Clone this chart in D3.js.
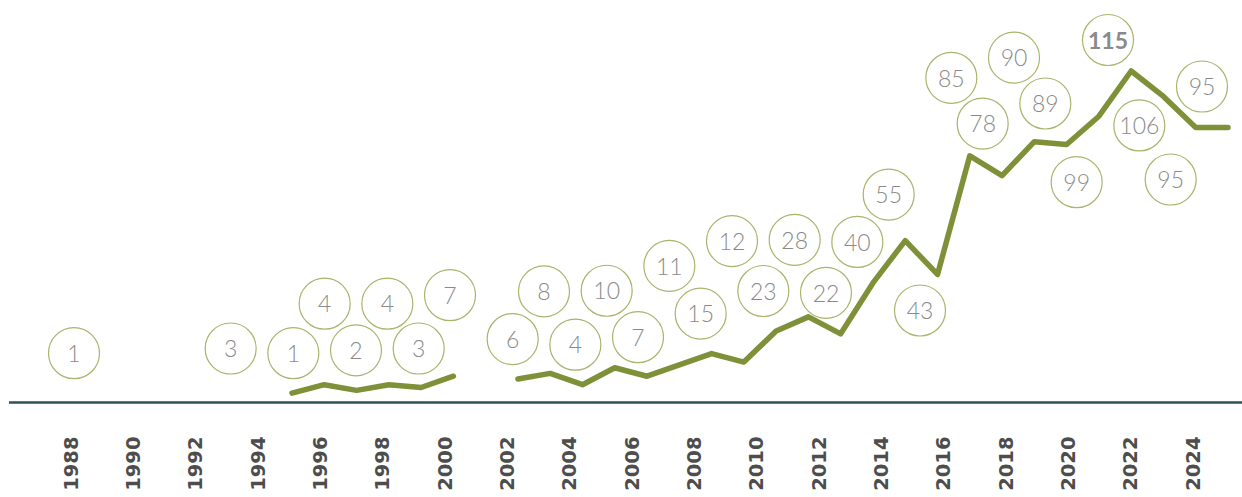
<!DOCTYPE html>
<html>
<head>
<meta charset="utf-8">
<script src="https://cdn.jsdelivr.net/npm/d3@7"></script>
<style>
  html, body { margin: 0; padding: 0; background: #fff; }
  svg { display: block; }
</style>
</head>
<body>
<svg id="chart" width="1242" height="497"></svg>
<script>
// ---- DATA ----
const years  = [1988, 1993, 1995, 1996, 1997, 1998, 1999, 2000, 2002, 2003, 2004, 2005, 2006, 2007, 2008, 2009,
                2010, 2011, 2012, 2013, 2014, 2015, 2016, 2017, 2018, 2019, 2020, 2021, 2022, 2023, 2024];
const values = [1, 3, 1, 4, 2, 4, 3, 7, 6, 8, 4, 10, 7, 11, 15, 12,
                23, 28, 22, 40, 55, 43, 85, 78, 90, 89, 99, 115, 106, 95, 95];
const tickYears = [1988, 1990, 1992, 1994, 1996, 1998, 2000, 2002, 2004, 2006, 2008, 2010, 2012,
                   2014, 2016, 2018, 2020, 2022, 2024];
const highlightYear = 2021;

// ---- LAYOUT (label bubble placement, pixels relative to line point) ----
const bubbleOffset = [-40, -39, -40, -81, -40, -81, -39, -81, -40, -82, -40, -77, -39, -99, -40, -121,
                      -40, -77, -41, -41, -46, 36, -78, -52, -84, -41, 66, -31, 29, 52, -41];

const svg = d3.select("#chart");
const axisY = 402.5;

// scales
const y = d3.scaleLinear().domain([0, 115]).range([396, 71]);
const xLine = d3.scaleLinear().domain([1995, 2024]).range([292, 1228]);
const xBubble = d3.scaleLinear().domain([1988, 2024]).range([74, 1202]);
const xAxisScale = d3.scaleLinear().domain([1988, 2024]).range([70, 1192]);

// full year series with gaps (null where no data)
const byYear = new Map(years.map((yr, i) => [yr, values[i]]));
const allYears = d3.range(1988, 2025);
const series = allYears.map(yr => ({ year: yr, value: byYear.has(yr) ? byYear.get(yr) : null }));

// baseline
svg.append("line")
  .attr("x1", 9).attr("x2", 1242)
  .attr("y1", axisY).attr("y2", axisY)
  .attr("stroke", "#2f5259").attr("stroke-width", 2.5);

// axis labels
const axis = d3.axisBottom(xAxisScale)
  .tickValues(tickYears)
  .tickFormat(d3.format("d"))
  .tickSize(0);
const gAxis = svg.append("g").attr("transform", `translate(0,${axisY})`).call(axis);
gAxis.select(".domain").remove();
gAxis.selectAll("text")
  .attr("transform", "rotate(-90)")
  .attr("x", -34)
  .attr("y", 0)
  .attr("dy", "0.36em")
  .attr("text-anchor", "end")
  .attr("fill", "#4d4d4d")
  .style("font-family", "'DejaVu Sans', sans-serif")
  .style("font-weight", "bold")
  .style("font-size", "19.5px");

// line
const line = d3.line()
  .defined(d => d.value !== null)
  .x(d => xLine(d.year))
  .y(d => y(d.value));
svg.append("path")
  .datum(series.filter(d => d.year >= 1995))
  .attr("d", line)
  .attr("fill", "none")
  .attr("stroke", "#7e9138")
  .attr("stroke-width", 5.5)
  .attr("stroke-linejoin", "round")
  .attr("stroke-linecap", "round");

// bubbles
const bubbles = svg.append("g").selectAll("g")
  .data(years.map((yr, i) => ({ year: yr, value: values[i], off: bubbleOffset[i] })))
  .join("g")
  .attr("transform", d => `translate(${xBubble(d.year)},${y(d.value) + d.off})`);

bubbles.append("circle")
  .attr("r", 25.5)
  .attr("fill", "#fff")
  .attr("stroke", "#a9b46c")
  .attr("stroke-width", 1.2);

bubbles.append("text")
  .attr("text-anchor", "middle")
  .attr("dy", "0.38em")
  .attr("fill", "#8a8a8a")
  .style("font-family", "Lato, 'Open Sans', sans-serif")
  .style("font-size", "23px")
  .style("font-weight", d => d.year === highlightYear ? "bold" : "300")
  .text(d => d.value);
</script>
</body>
</html>
